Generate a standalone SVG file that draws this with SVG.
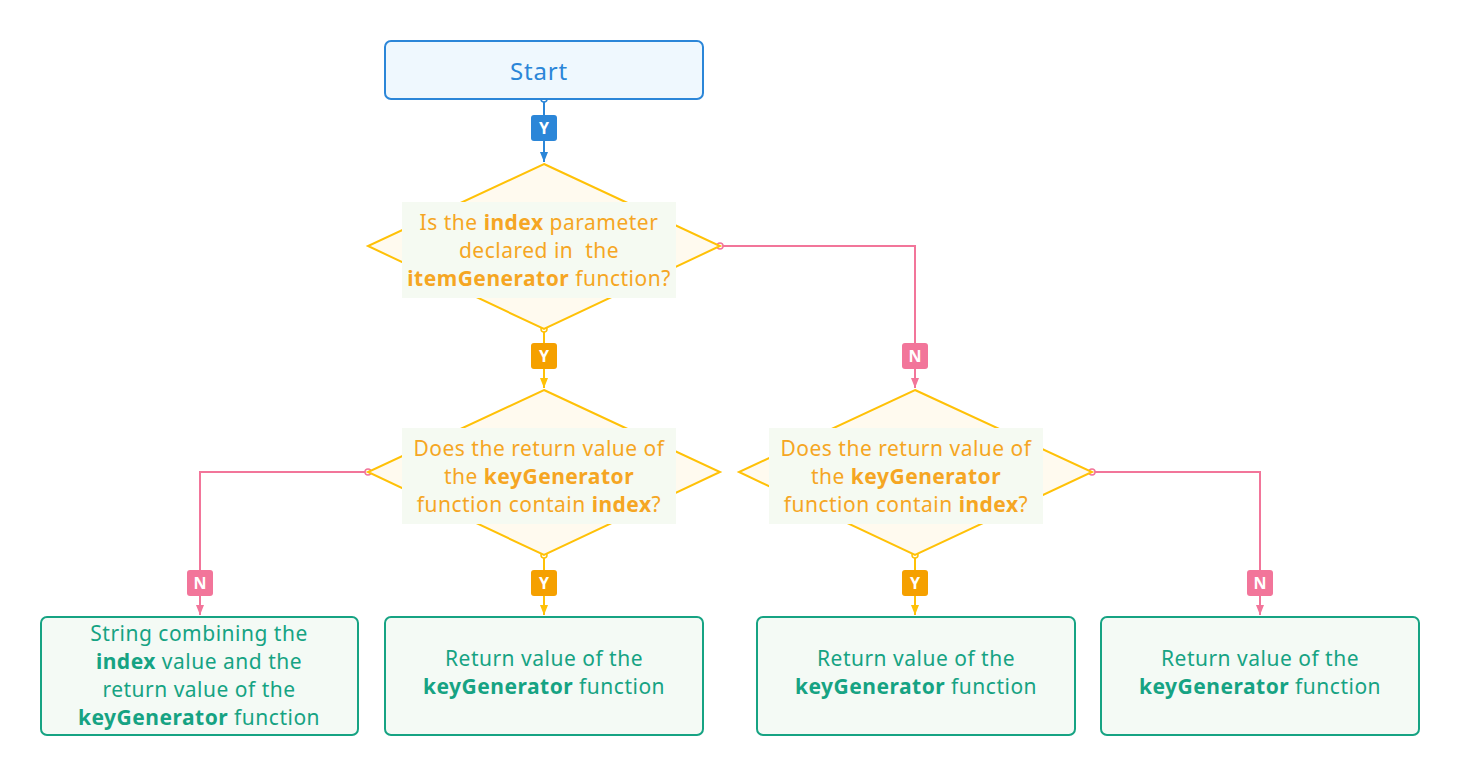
<svg xmlns="http://www.w3.org/2000/svg" width="1460" height="776" viewBox="0 0 1460 776">
<defs>
<style>
text{font-family:"Noto Sans","Open Sans","Liberation Sans",sans-serif;text-anchor:middle}
.t{font-size:21px;letter-spacing:0.5px}
.b{font-weight:bold}
.start rect{fill:#eff8fe;stroke:#2b86d8;stroke-width:2}
.start text{fill:#2b86d8;font-size:24px;letter-spacing:0.8px}
.dia polygon{fill:#fffaef;stroke:#ffc107;stroke-width:2}
.dia rect{fill:#f5faf2}
.dia text{fill:#f5a623}
.box rect{fill:#f4faf5;stroke:#16a383;stroke-width:2}
.box text{fill:#16a383}
.cb{stroke:#2b86d8;stroke-width:2;fill:none}
.cy{stroke:#ffc107;stroke-width:2;fill:none}
.cp{stroke:#f2759a;stroke-width:2;fill:none}
.lbl text{fill:#fff;font-weight:bold;font-size:16px}
</style>
<marker id="ab" markerWidth="10" markerHeight="8" refX="10" refY="4" orient="auto" markerUnits="userSpaceOnUse"><path d="M0,0L10,4L0,8Z" fill="#2b86d8"/></marker>
<marker id="ay" markerWidth="10" markerHeight="8" refX="10" refY="4" orient="auto" markerUnits="userSpaceOnUse"><path d="M0,0L10,4L0,8Z" fill="#ffc107"/></marker>
<marker id="ap" markerWidth="10" markerHeight="8" refX="10" refY="4" orient="auto" markerUnits="userSpaceOnUse"><path d="M0,0L10,4L0,8Z" fill="#f2759a"/></marker>
</defs>
<rect width="1460" height="776" fill="#fff"/>

<g id="connectors">
<path class="cb" d="M544,99V162" marker-end="url(#ab)"/>
<circle cx="544" cy="99" r="3" fill="#fff" stroke="#2b86d8" stroke-width="1.5"/>
<path class="cy" d="M544,329V388" marker-end="url(#ay)"/>
<circle cx="544" cy="329" r="3" fill="#fff" stroke="#ffc107" stroke-width="1.5"/>
<path class="cp" d="M720,246H915V388" marker-end="url(#ap)"/>
<circle cx="720" cy="246" r="3" fill="#fff" stroke="#f2759a" stroke-width="1.5"/>
<path class="cp" d="M368,472H200V615" marker-end="url(#ap)"/>
<circle cx="368" cy="472" r="3" fill="#fff" stroke="#f2759a" stroke-width="1.5"/>
<path class="cy" d="M544,555V615" marker-end="url(#ay)"/>
<circle cx="544" cy="555" r="3" fill="#fff" stroke="#ffc107" stroke-width="1.5"/>
<path class="cy" d="M915,555V615" marker-end="url(#ay)"/>
<circle cx="915" cy="555" r="3" fill="#fff" stroke="#ffc107" stroke-width="1.5"/>
<path class="cp" d="M1092,472H1260V615" marker-end="url(#ap)"/>
<circle cx="1092" cy="472" r="3" fill="#fff" stroke="#f2759a" stroke-width="1.5"/>
<g class="lbl">
<rect x="531" y="115" width="26" height="26" rx="3" fill="#2b86d8"/><text x="544" y="134">Y</text>
<rect x="531" y="343" width="26" height="26" rx="3" fill="#f5a000"/><text x="544" y="362">Y</text>
<rect x="902" y="343" width="26" height="26" rx="3" fill="#f2759a"/><text x="915" y="362">N</text>
<rect x="187" y="570" width="26" height="26" rx="3" fill="#f2759a"/><text x="200" y="589">N</text>
<rect x="531" y="570" width="26" height="26" rx="3" fill="#f5a000"/><text x="544" y="589">Y</text>
<rect x="902" y="570" width="26" height="26" rx="3" fill="#f5a000"/><text x="915" y="589">Y</text>
<rect x="1247" y="570" width="26" height="26" rx="3" fill="#f2759a"/><text x="1260" y="589">N</text>
</g>
</g>

<g id="start" class="start">
<rect x="385" y="41" width="318" height="58" rx="6"/>
<text x="539" y="80">Start</text>
</g>

<g id="decision1" class="dia">
<polygon points="544,164 720,246 544,329 368,246"/>
<rect x="402" y="202" width="274" height="96"/>
<text class="t" x="539" y="230">Is the <tspan class="b">index</tspan> parameter</text>
<text class="t" x="539" y="258">declared in&#160; the</text>
<text class="t" x="539" y="286"><tspan class="b">itemGenerator</tspan> function?</text>
</g>

<g id="decision2" class="dia">
<polygon points="544,390 720,472 544,555 368,472"/>
<rect x="402" y="428" width="274" height="96"/>
<text class="t" x="539" y="456">Does the return value of</text>
<text class="t" x="539" y="484">the <tspan class="b">keyGenerator</tspan></text>
<text class="t" x="539" y="512">function contain <tspan class="b">index</tspan>?</text>
</g>

<g id="decision3" class="dia">
<polygon points="915,390 1092,472 915,555 739,472"/>
<rect x="769" y="428" width="274" height="96"/>
<text class="t" x="906" y="456">Does the return value of</text>
<text class="t" x="906" y="484">the <tspan class="b">keyGenerator</tspan></text>
<text class="t" x="906" y="512">function contain <tspan class="b">index</tspan>?</text>
</g>

<g id="result1" class="box">
<rect x="41" y="617" width="317" height="118" rx="6"/>
<text class="t" x="199" y="641">String combining the</text>
<text class="t" x="199" y="669"><tspan class="b">index</tspan> value and the</text>
<text class="t" x="199" y="697">return value of the</text>
<text class="t" x="199" y="725"><tspan class="b">keyGenerator</tspan> function</text>
</g>

<g id="result2" class="box">
<rect x="385" y="617" width="318" height="118" rx="6"/>
<text class="t" x="544" y="666">Return value of the</text>
<text class="t" x="544" y="694"><tspan class="b">keyGenerator</tspan> function</text>
</g>

<g id="result3" class="box">
<rect x="757" y="617" width="318" height="118" rx="6"/>
<text class="t" x="916" y="666">Return value of the</text>
<text class="t" x="916" y="694"><tspan class="b">keyGenerator</tspan> function</text>
</g>

<g id="result4" class="box">
<rect x="1101" y="617" width="318" height="118" rx="6"/>
<text class="t" x="1260" y="666">Return value of the</text>
<text class="t" x="1260" y="694"><tspan class="b">keyGenerator</tspan> function</text>
</g>
</svg>
